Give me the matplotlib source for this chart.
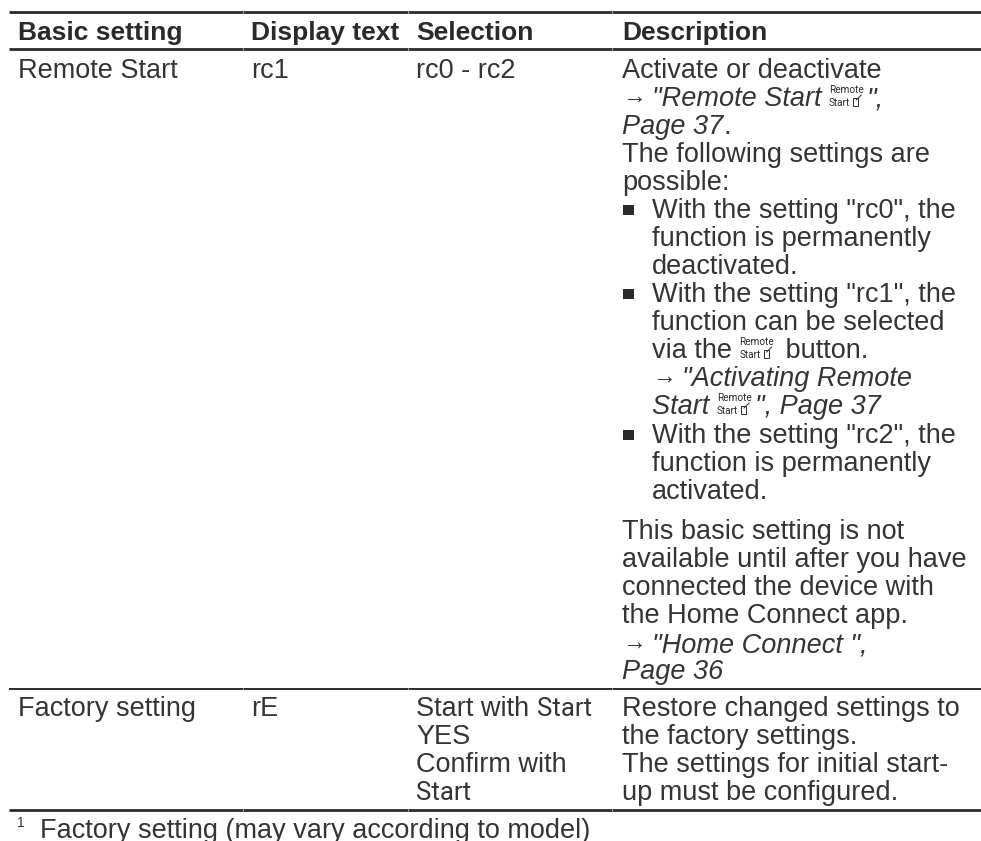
import matplotlib
matplotlib.use('Agg')
import matplotlib.pyplot as plt
from matplotlib.patches import Rectangle

INK = '#2b2a29'
BODY_INK = '#353433'
FONT = 'Liberation Sans'
SIZE = 19.5
HEAD_SIZE = 19.0

headers = ['Basic setting', 'Display text', 'Selection', 'Description']
col_x = [18, 251, 416, 622]
col_breaks = [9, 243, 408, 612, 981]

row1_cells = ['Remote Start', 'rc1', 'rc0 - rc2']
row2_cells = ['Factory setting', 'rE']

KEY = '\u0001'   # marks the small "Remote Start" key symbol
ARROW = '\u2192'

description_1 = [
    (78, 0, [('Activate or deactivate', 'r')]),
    (106, 0, [(ARROW, 'a'), ('"Remote Start ', 'i'), (KEY, 'k'), ('",', 'i')]),
    (134, 0, [('Page 37', 'i'), ('.', 'r')]),
    (162, 0, [('The following settings are', 'r')]),
    (190, 0, [('possible:', 'r')]),
    (218, 1, [('With the setting "rc0", the', 'r')]),
    (246, 2, [('function is permanently', 'r')]),
    (274, 2, [('deactivated.', 'r')]),
    (302, 1, [('With the setting "rc1", the', 'r')]),
    (330, 2, [('function can be selected', 'r')]),
    (358, 2, [('via the ', 'r'), (KEY, 'k'), (' button.', 'r')]),
    (386, 2, [(ARROW, 'a'), ('"Activating Remote', 'i')]),
    (414, 2, [('Start ', 'i'), (KEY, 'k'), ('", Page 37', 'i')]),
    (443, 1, [('With the setting "rc2", the', 'r')]),
    (471, 2, [('function is permanently', 'r')]),
    (499, 2, [('activated.', 'r')]),
    (539, 0, [('This basic setting is not', 'r')]),
    (567, 0, [('available until after you have', 'r')]),
    (595, 0, [('connected the device with', 'r')]),
    (623, 0, [('the Home Connect app.', 'r')]),
    (652, 0, [(ARROW, 'a'), ('"Home Connect ",', 'i')]),
    (679, 0, [('Page 36', 'i')]),
]
selection_2 = [
    (716, [('Start with ', 'r'), ('Start', 'c')]),
    (744, [('YES', 'r')]),
    (772, [('Confirm with', 'r')]),
    (800, [('Start', 'c')]),
]
description_2 = [
    (716, 'Restore changed settings to'),
    (744, 'the factory settings.'),
    (772, 'The settings for initial start-'),
    (800, 'up must be configured.'),
]
footnote_mark = '1'
footnote = 'Factory setting (may vary according to model)'
rules = [(12, 2.0), (49, 2.0), (689, 1.4), (810, 2.0)]

fig = plt.figure(figsize=(9.81, 8.41), dpi=100)
ax = fig.add_axes([0, 0, 1, 1])
ax.set_xlim(0, 981)
ax.set_ylim(841, 0)
ax.axis('off')
rend = fig.canvas.get_renderer()

STY = {
    'r': dict(family=FONT, fontsize=SIZE),
    'i': dict(family=FONT, fontsize=SIZE, style='italic'),
    'c': dict(family='Roboto', fontsize=18.5),
}


def put(x, y, s, key='r', **kw):
    opts = dict(STY[key])
    opts.update(kw)
    return ax.text(x, y, s, color=BODY_INK, va='baseline', ha='left', **opts)


def advance(s, key):
    """Width of a run, spaces included, without leaving anything on the page."""
    t = put(100, 100, s.replace(' ', '\u00a0'), key)
    w = t.get_window_extent(rend).width
    t.remove()
    return w


def key_symbol(x, base):
    """Small two-line key label with its little icon."""
    ax.text(x, base - 13, 'Remote', color=INK, fontsize=7.2, family='Roboto', va='baseline')
    t = ax.text(x, base, 'Start', color=INK, fontsize=7.2, family='Roboto', va='baseline')
    w = t.get_window_extent(rend).width
    ax.add_patch(Rectangle((x + w + 3, base - 8), 5, 8, fill=False, ec=INK, lw=0.7))
    ax.plot([x + w + 6, x + w + 11], [base - 6, base - 11], color=INK, lw=0.7)
    return 38


def run(x, y, segs):
    for s, k in segs:
        if k == 'k':
            x += key_symbol(x, y)
            continue
        if k == 'a':
            put(x, y - 3, s, 'r', fontsize=17)
            x += 30
            continue
        put(x, y, s, k)
        x += advance(s, k)


for y, lw in rules:
    ax.plot([col_breaks[0], col_breaks[-1]], [y, y], color=INK, lw=lw, solid_capstyle='butt')
    for b in col_breaks[1:-1]:
        ax.plot([b, b], [y - lw * 0.7, y + lw * 0.7], color='white', lw=0.5, solid_capstyle='butt')

for x, h in zip(col_x, headers):
    ax.text(x, 40, h, color=INK, family=FONT, fontsize=HEAD_SIZE,
            fontweight='bold', va='baseline')

for x, c in zip(col_x, row1_cells):
    put(x, 78, c)
for x, c in zip(col_x, row2_cells):
    put(x, 716, c)

INDENT = {0: 622, 1: 652, 2: 652}
for y, lvl, segs in description_1:
    run(INDENT[lvl], y, segs)
    if lvl == 1:
        ax.add_patch(Rectangle((623, y - 13), 11, 10, color=INK, lw=0))

for y, segs in selection_2:
    run(col_x[2], y, segs)
for y, s in description_2:
    put(col_x[3], y, s)

put(17, 827, footnote_mark, fontsize=10)
put(40, 838, footnote)

fig.savefig('out.png', dpi=100)
